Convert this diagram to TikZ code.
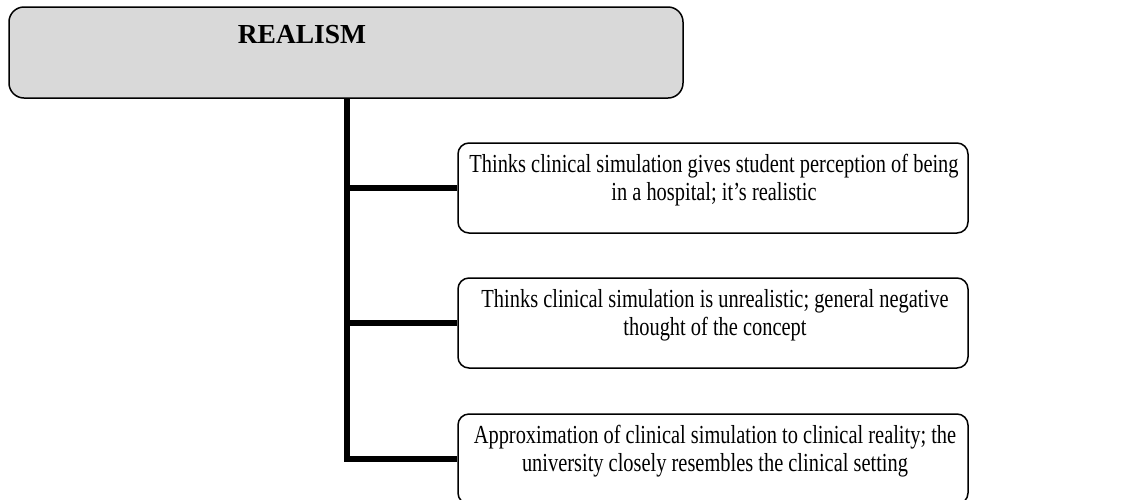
\documentclass[tikz,border=0pt]{standalone}
\usepackage{fontspec}
\setmainfont{Liberation Serif}
\newfontfamily\itemfont[FakeStretch=0.785]{Liberation Serif}
\definecolor{headfill}{HTML}{D9D9D9}
\begin{document}
\begin{tikzpicture}[x=1pt, y=-1pt,
  panel/.style={draw=black, line width=1.5pt, rounded corners=11pt, inner sep=0pt,
    minimum width=510pt, minimum height=90pt},
  headpanel/.style={draw=black, line width=1.5pt, rounded corners=15pt, inner sep=0pt,
    fill=headfill, minimum width=674pt, minimum height=91pt},
  headtext/.style={font=\bfseries\fontsize{27.5}{33}\selectfont, anchor=base, inner sep=0pt},
  % base anchor of a two-line node sits on its last line
  itemtext/.style={font=\itemfont\fontsize{26}{28}\selectfont, align=center, anchor=base, inner sep=0pt},
  trunk/.style={draw=black, line width=5.5pt}
]
\useasboundingbox (0,0) rectangle (1132,499);

% heading
\node[headpanel] (top) at (346,52.5) {};
\node[headtext] (title) at (302,43) {REALISM};

% items
\node[panel] (c1) at (713,188) {};
\node[panel] (c2) at (713,323) {};
\node[panel] (c3) at (713,459) {};

\node[itemtext] (t1) at (714,200) {Thinks clinical simulation gives student perception of being\\in a hospital; it’s realistic};
\node[itemtext] (t2) at (715,335) {Thinks clinical simulation is unrealistic; general negative\\thought of the concept};
\node[itemtext] (t3) at (715,471) {Approximation of clinical simulation to clinical reality; the\\university closely resembles the clinical setting};

% connectors
\coordinate (tr) at (347,0);
\draw[trunk] (top.south -| tr) -- (tr |- c3.west) -- (c3.west);
\draw[trunk] (tr |- c1.west) -- (c1.west);
\draw[trunk] (tr |- c2.west) -- (c2.west);
\end{tikzpicture}
\end{document}
